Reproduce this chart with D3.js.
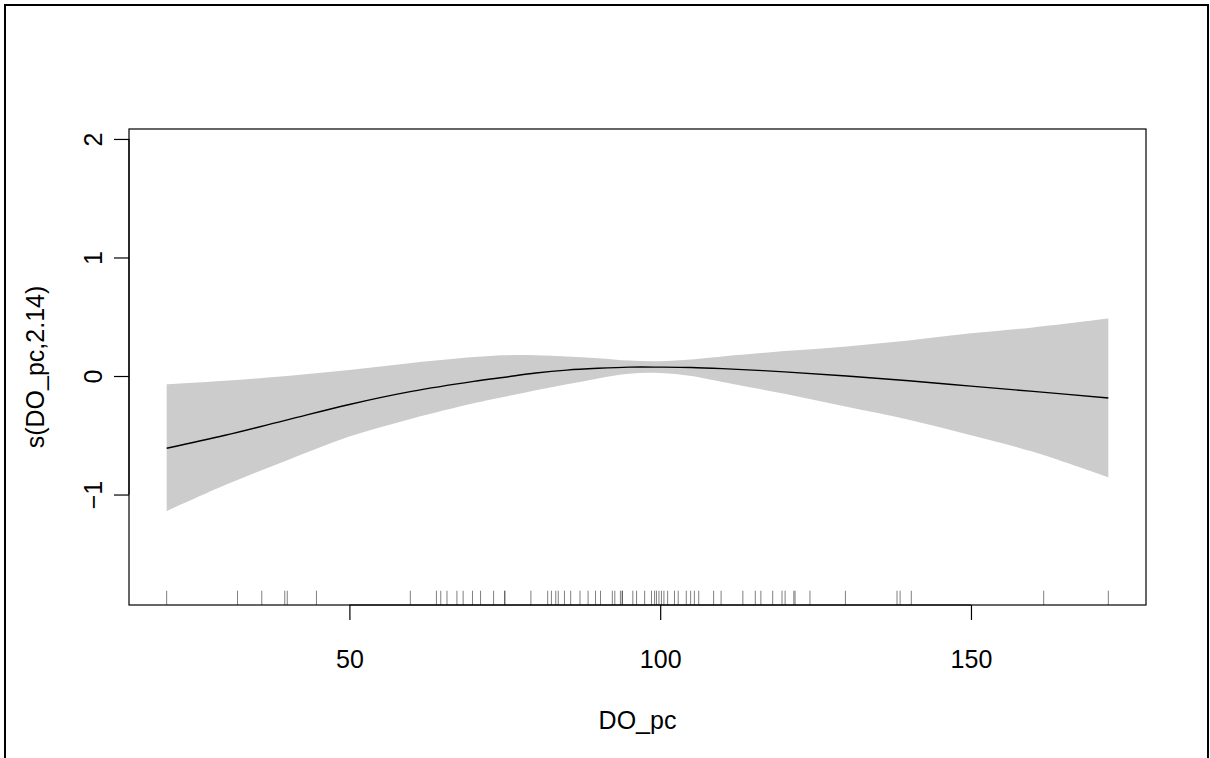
<!DOCTYPE html>
<html>
<head>
<meta charset="utf-8">
<script src="https://cdn.jsdelivr.net/npm/d3@7"></script>
<style>
  html, body { margin: 0; padding: 0; background: #fff; }
  svg { display: block; }
  text { font-family: "Liberation Sans", Arial, sans-serif; }
</style>
</head>
<body>
<svg id="chart" width="1210" height="758"></svg>
<script>
// ---- data ----
const doPc   = [20.6, 30, 40, 50, 60, 70, 75, 80, 85, 90, 95, 100, 105, 110, 120, 130, 140, 150, 160, 172.1];
const fitVal = [-0.61, -0.50, -0.37, -0.24, -0.13, -0.045, -0.01, 0.025, 0.05, 0.065, 0.075, 0.075, 0.072, 0.062, 0.035, 0.0, -0.04, -0.085, -0.13, -0.185];
const upper  = [-0.07, -0.04, 0.0, 0.05, 0.11, 0.16, 0.175, 0.175, 0.165, 0.15, 0.13, 0.125, 0.14, 0.165, 0.21, 0.25, 0.30, 0.36, 0.41, 0.485];
const lower  = [-1.14, -0.92, -0.71, -0.51, -0.36, -0.23, -0.175, -0.12, -0.07, -0.02, 0.02, 0.025, 0.0, -0.05, -0.15, -0.26, -0.37, -0.50, -0.64, -0.855];
const rugVals = [20.6, 32.0, 35.9, 39.6, 40.0, 44.7, 59.8, 64.0, 64.7, 65.7, 67.3, 68.3, 69.8, 71.1, 73.2, 75.0, 75.0,
  79.2, 81.9, 82.5, 83.2, 83.6, 84.6, 85.6, 87.1, 88.4, 89.6, 90.4, 92.3, 92.7, 93.6, 93.9, 93.9, 95.6, 96.2, 97.5,
  98.6, 99.1, 99.4, 99.8, 100.2, 100.6, 101.2, 102.3, 102.9, 104.2, 104.9, 105.5, 106.2, 108.6, 109.8, 113.3, 115.3,
  116.2, 118.1, 119.6, 120.1, 121.5, 121.7, 124.1, 129.8, 138.1, 138.6, 140.4, 161.7, 172.1];
const xTicks = [50, 100, 150];
const yTicks = [-1, 0, 1, 2];
const xLabel = "DO_pc";
const yLabel = "s(DO_pc,2.14)";

// ---- layout ----
const box = { left: 129, right: 1146, top: 129, bottom: 605 };
const svg = d3.select("#chart");

const x = d3.scaleLinear().domain([14.54, 178.16]).range([box.left, box.right]);
const y = d3.scaleLinear().domain([-1.932, 2.084]).range([box.bottom, box.top]);

// outer frame
svg.append("rect").attr("x", 5).attr("y", 5).attr("width", 1203).attr("height", 770)
  .attr("fill", "none").attr("stroke", "#000").attr("stroke-width", 2);

const pts = doPc.map((d, i) => ({ x: d, f: fitVal[i], u: upper[i], l: lower[i] }));

// confidence band
svg.append("path").datum(pts)
  .attr("d", d3.area().x(d => x(d.x)).y0(d => y(d.l)).y1(d => y(d.u)).curve(d3.curveCatmullRom))
  .attr("fill", "#cccccc").attr("stroke", "none");

// fit line
svg.append("path").datum(pts)
  .attr("d", d3.line().x(d => x(d.x)).y(d => y(d.f)).curve(d3.curveCatmullRom))
  .attr("fill", "none").attr("stroke", "#000").attr("stroke-width", 1.4);

// rug
const rugLen = 0.03 * (box.bottom - box.top);
svg.append("g").selectAll("line").data(rugVals).join("line")
  .attr("x1", d => x(d)).attr("x2", d => x(d))
  .attr("y1", box.bottom).attr("y2", box.bottom - rugLen)
  .attr("stroke", "#000").attr("stroke-opacity", 0.5).attr("stroke-width", 1);

// box
svg.append("rect").attr("x", box.left).attr("y", box.top)
  .attr("width", box.right - box.left).attr("height", box.bottom - box.top)
  .attr("fill", "none").attr("stroke", "#000").attr("stroke-width", 1.2);

// x axis
const xAxis = d3.axisBottom(x).tickValues(xTicks).tickFormat(d3.format("d"))
  .tickSize(15).tickPadding(30).tickSizeOuter(0);
const gx = svg.append("g").attr("transform", `translate(0,${box.bottom})`).call(xAxis);
gx.select(".domain").attr("d", `M${x(xTicks[0])},0H${x(xTicks[xTicks.length-1])}`).attr("stroke-width", 1.2);
gx.selectAll(".tick line").attr("stroke-width", 1.2);
gx.selectAll(".tick text").attr("font-size", 25).attr("fill", "#000")
  .attr("font-family", "Liberation Sans, Arial, sans-serif");

// y axis
const yAxis = d3.axisLeft(y).tickValues(yTicks).tickFormat(d3.format("d"))
  .tickSize(15).tickPadding(0).tickSizeOuter(0);
const gy = svg.append("g").attr("transform", `translate(${box.left},0)`).call(yAxis);
gy.select(".domain").attr("d", `M0,${y(yTicks[0])}V${y(yTicks[yTicks.length-1])}`).attr("stroke-width", 1.2);
gy.selectAll(".tick line").attr("stroke-width", 1.2);
gy.selectAll(".tick text")
  .attr("font-size", 25).attr("fill", "#000")
  .attr("font-family", "Liberation Sans, Arial, sans-serif")
  .attr("x", null).attr("dy", null)
  .attr("text-anchor", "middle")
  .attr("transform", "translate(-27,0) rotate(-90)")
  .attr("y", 0);

// titles
svg.append("text").attr("x", (box.left + box.right) / 2).attr("y", 729)
  .attr("text-anchor", "middle").attr("font-size", 25).text(xLabel);
svg.append("text")
  .attr("transform", `translate(44,${(box.top + box.bottom) / 2}) rotate(-90)`)
  .attr("text-anchor", "middle").attr("font-size", 25).text(yLabel);
</script>
</body>
</html>
